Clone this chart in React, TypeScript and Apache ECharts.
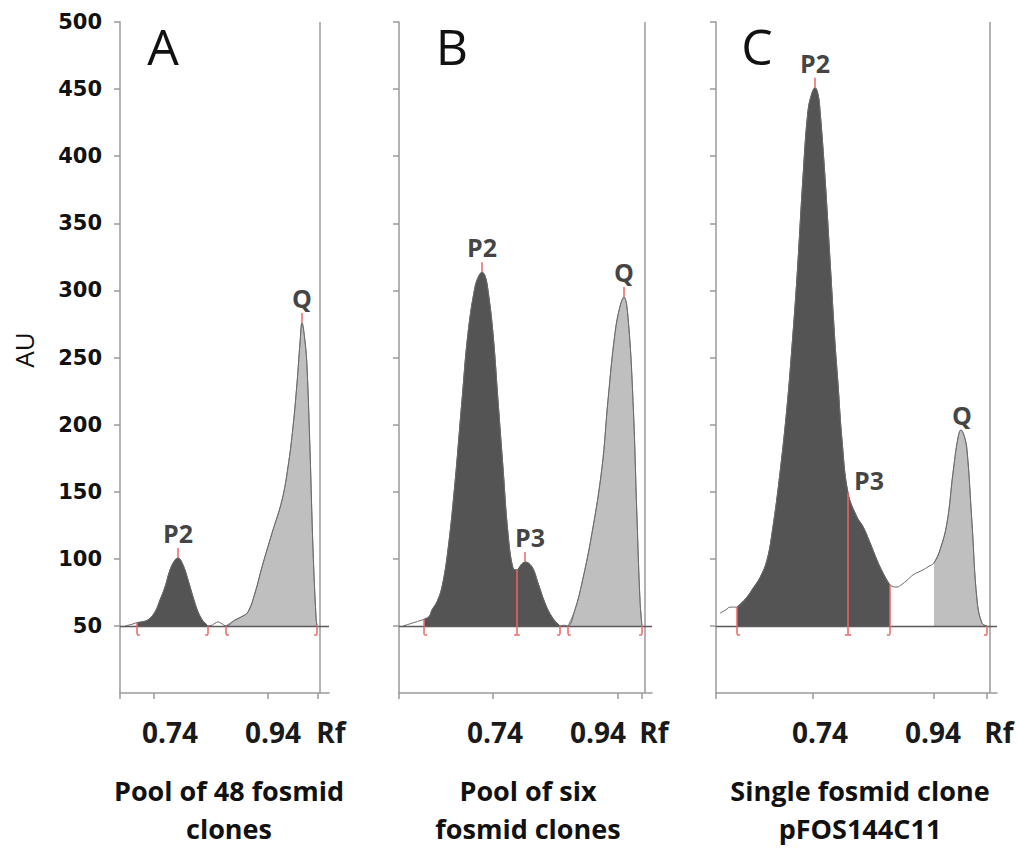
import React, { useEffect, useRef } from "react";
import * as echarts from "echarts";

type Pt = [number, number];

// ---------- data ----------
const yTickValues = [50, 100, 150, 200, 250, 300, 350, 400, 450, 500];
const xLabelValues = [0.74, 0.94];
const xAxisName = "Rf";
const yAxisName = "AU";
const panelLetters = ["A", "B", "C"];
const panelCaptions = [
  ["Pool of 48 fosmid", "clones"],
  ["Pool of six", "fosmid clones"],
  ["Single fosmid clone", "pFOS144C11"],
];
const baselineAU = 50;

// densitometric profiles (Rf, AU)
const profileA: Pt[] = [
  [0.6526, 50], [0.6643, 51], [0.672, 52], [0.6759, 52.5], [0.6856, 53], [0.6973, 54.5],
  [0.7109, 60.4], [0.7206, 69.3], [0.7303, 79], [0.74, 91.7], [0.7497, 99.1], [0.7555, 100.6],
  [0.7652, 95.4], [0.775, 84.2], [0.7847, 71.5], [0.7944, 60.4], [0.8041, 53.5], [0.808, 52.2],
  [0.8138, 50], [0.8216, 50.5], [0.8274, 52], [0.8332, 53], [0.839, 52], [0.8449, 50.5],
  [0.8487, 50], [0.8662, 54.4], [0.8798, 57], [0.8915, 60.4], [0.905, 74.5], [0.9186, 93.9],
  [0.9381, 119.2], [0.9575, 143.8], [0.9691, 168.4], [0.9788, 198.2], [0.9866, 231],
  [0.9924, 260.8], [0.9963, 275.7], [1.0021, 262], [1.006, 242.9], [1.0118, 181.1],
  [1.0177, 106.6], [1.0235, 56.6], [1.0254, 50],
];
const profileB: Pt[] = [
  [0.5614, 50], [0.6026, 55], [0.6123, 57], [0.6177, 61.9], [0.6274, 68], [0.6371, 79],
  [0.6487, 106.6], [0.6623, 156.5], [0.6759, 218], [0.6876, 268], [0.7012, 302.5],
  [0.7089, 311], [0.7148, 313.5], [0.7206, 311], [0.7264, 300], [0.7361, 268], [0.7458, 218],
  [0.7555, 168], [0.7652, 119], [0.775, 93], [0.7827, 91.7], [0.7905, 95.5], [0.7983, 97.6],
  [0.8118, 94], [0.8235, 82], [0.8371, 67], [0.8507, 56.6], [0.8662, 50], [0.874, 50.5],
  [0.8817, 50], [0.8953, 62], [0.9089, 82], [0.9283, 119], [0.9478, 168], [0.9594, 218],
  [0.973, 268], [0.9827, 288], [0.9905, 295], [0.9983, 280], [1.008, 218], [1.0157, 131],
  [1.0216, 69], [1.0254, 50],
];
const profileC: Pt[] = [
  [0.563, 59.6], [0.5736, 62], [0.5807, 64], [0.5931, 64], [0.6108, 71.5], [0.6214, 78],
  [0.6338, 86], [0.6462, 99], [0.6568, 124], [0.6692, 164], [0.6816, 213], [0.6904, 258],
  [0.6993, 310], [0.7099, 384.5], [0.7188, 434], [0.7258, 447], [0.7312, 451], [0.7365, 446],
  [0.74, 434], [0.7488, 384.5], [0.7577, 322.7], [0.7665, 261], [0.7719, 230], [0.7789, 188.5],
  [0.7896, 149], [0.8055, 131], [0.8161, 124], [0.8285, 112], [0.8409, 99], [0.8515, 89.4],
  [0.8639, 80.5], [0.8763, 79], [0.8851, 81], [0.894, 84], [0.9046, 88], [0.9135, 90],
  [0.9223, 91.7], [0.9312, 94], [0.9418, 97], [0.9524, 106.6], [0.9648, 126.7], [0.9754, 164],
  [0.9842, 190], [0.9896, 196], [0.9949, 192], [1.0002, 181], [1.009, 126.7], [1.0179, 69.3],
  [1.0267, 52], [1.0356, 50],
];

// integrated zones [from, to] in Rf
const darkZoneA = [0.6759, 0.8138];
const lightZoneA = [0.8487, 1.0254];
const darkZoneB = [0.6026, 0.8662];
const lightZoneB = [0.8817, 1.0254];
const darkZoneC = [0.5931, 0.8639];
const lightZoneC = [0.9418, 1.0356];

// red zone boundaries
const boundsA = [
  { x: 0.6759, kind: "start" }, { x: 0.8138, kind: "end" },
  { x: 0.8487, kind: "start" }, { x: 1.0254, kind: "end" },
];
const boundsB = [
  { x: 0.6026, kind: "start" }, { x: 0.7827, kind: "split" }, { x: 0.8662, kind: "end" },
  { x: 0.8817, kind: "start" }, { x: 1.0254, kind: "end" },
];
const boundsC = [
  { x: 0.5931, kind: "start" }, { x: 0.7896, kind: "split" }, { x: 0.8639, kind: "end" },
  { x: 1.0356, kind: "end" },
];

// named peaks
const peaksA = [
  { name: "P2", x: 0.7555, y: 100.6, tick: true },
  { name: "Q", x: 0.9963, y: 275.7, tick: true },
];
const peaksB = [
  { name: "P2", x: 0.7148, y: 313.5, tick: true },
  { name: "P3", x: 0.7983, y: 97.6, tick: true },
  { name: "Q", x: 0.9905, y: 295, tick: true },
];
const peaksC = [
  { name: "P2", x: 0.7312, y: 451, tick: true },
  { name: "P3", x: 0.7896, y: 149, tick: false },
  { name: "Q", x: 0.9896, y: 196, tick: false },
];

// ---------- layout / style ----------
const layouts = [
  { left: 120, width: 209, min: 0.6429, max: 1.0487, ticks: [0.6429, 0.7089, 0.9303, 1.0274], frame: 1.0274, letterX: 163, captionX: 229 },
  { left: 399, width: 253, min: 0.5536, max: 1.0449, ticks: [0.5536, 0.7361, 0.9788, 1.0254], frame: 1.0254, letterX: 452, captionX: 528 },
  { left: 716, width: 281, min: 0.5559, max: 1.0533, ticks: [0.5559, 0.7276, 0.9418, 1.0356], frame: 1.0356, letterX: 757, captionX: 860 },
];
const labelOffsets: Record<string, number[]> = {
  "1-P3": [5, 0],
  "2-P3": [21, 12],
  "2-Q": [1, 10],
};
const GRID_TOP = 22;
const GRID_H = 671;
const AXIS_COLOR = "#9a9a9a";
const RED = "#f06565";
const DARK = "#545454";
const LIGHT = "#bfbfbf";
const FONT = '"Open Sans", "DejaVu Sans", sans-serif';

const panels = [
  { profile: profileA, dark: darkZoneA, light: lightZoneA, bounds: boundsA, peaks: peaksA },
  { profile: profileB, dark: darkZoneB, light: lightZoneB, bounds: boundsB, peaks: peaksB },
  { profile: profileC, dark: darkZoneC, light: lightZoneC, bounds: boundsC, peaks: peaksC },
];

function valueAt(profile: Pt[], x: number): number {
  for (let i = 0; i < profile.length - 1; i++) {
    const [x0, y0] = profile[i];
    const [x1, y1] = profile[i + 1];
    if (x >= x0 - 1e-9 && x <= x1 + 1e-9) return y0 + ((y1 - y0) * (x - x0)) / (x1 - x0 || 1);
  }
  return baselineAU;
}
function zone(profile: Pt[], z: number[]): Pt[] {
  return profile.filter((p) => p[0] >= z[0] - 1e-9 && p[0] <= z[1] + 1e-9);
}

const SMOOTH = 0.4;

function buildOption() {
  const grid: any[] = [];
  const xAxis: any[] = [];
  const yAxis: any[] = [];
  const series: any[] = [];
  const graphic: any[] = [];

  panels.forEach((p, i) => {
    const L = layouts[i];
    grid.push({ left: L.left, top: GRID_TOP, width: L.width, height: GRID_H, containLabel: false, outerBoundsMode: "none" });
    xAxis.push({
      type: "value",
      gridIndex: i,
      min: L.min,
      max: L.max,
      splitLine: { show: false },
      axisLine: { show: true, onZero: false, lineStyle: { color: AXIS_COLOR, width: 1.5 } },
      axisTick: { show: true, customValues: L.ticks, length: 6, lineStyle: { color: AXIS_COLOR, width: 1.5 } },
      axisLabel: {
        show: true,
        customValues: xLabelValues,
        formatter: (v: number) => v.toFixed(2),
        margin: 25,
        color: "#1a1a1a",
        fontFamily: FONT,
        fontWeight: "bold",
        fontSize: 28,
      },
      name: xAxisName,
      nameLocation: "end",
      nameGap: 2,
      nameMoveOverlap: false,
      nameTextStyle: {
        color: "#1a1a1a",
        fontFamily: FONT,
        fontWeight: "bold",
        fontSize: 28,
        align: "center",
        verticalAlign: "top",
        padding: [25, 0, 0, 0],
      },
    });
    yAxis.push({
      type: "value",
      gridIndex: i,
      min: 0,
      max: 500,
      interval: 50,
      splitLine: { show: false },
      axisLine: { show: true, onZero: false, lineStyle: { color: AXIS_COLOR, width: 1.5 } },
      axisTick: { show: true, customValues: yTickValues, length: 6, lineStyle: { color: AXIS_COLOR, width: 1.5 } },
      axisLabel: {
        show: i === 0,
        customValues: yTickValues,
        margin: 18,
        color: "#111",
        fontFamily: '"DejaVu Sans", sans-serif',
        fontWeight: "bold",
        fontSize: 21,
        padding: [14, 0, 0, 0],
      },
    });

    // red marker segments
    const foot = 0.0055;
    const low = baselineAU - 6.5;
    const marks: any[] = [];
    const redStyle = { color: RED, width: 1.5, type: "solid" };
    p.bounds.forEach((b) => {
      const top = valueAt(p.profile, b.x);
      marks.push([{ coord: [b.x, low], lineStyle: redStyle }, { coord: [b.x, top] }]);
      const a = b.kind === "start" ? b.x : b.x - foot;
      const c = b.kind === "end" ? b.x : b.x + foot;
      marks.push([{ coord: [a, low], lineStyle: redStyle }, { coord: [c, low] }]);
    });
    p.peaks.forEach((pk) => {
      if (pk.tick) marks.push([{ coord: [pk.x, pk.y], lineStyle: redStyle }, { coord: [pk.x, pk.y + 7.5] }]);
    });

    // dark and light integrated areas
    series.push({
      type: "line",
      xAxisIndex: i,
      yAxisIndex: i,
      data: zone(p.profile, p.dark),
      showSymbol: false,
      smooth: SMOOTH,
      lineStyle: { color: DARK, width: 1 },
      areaStyle: { color: DARK, opacity: 1, origin: baselineAU },
      z: 2,
      silent: true,
    });
    series.push({
      type: "line",
      xAxisIndex: i,
      yAxisIndex: i,
      data: zone(p.profile, p.light),
      showSymbol: false,
      smooth: SMOOTH,
      lineStyle: { color: "#8a8a8a", width: 1 },
      areaStyle: { color: LIGHT, opacity: 1, origin: baselineAU },
      z: 2,
      silent: true,
    });
    // full profile with frame, baseline and markers
    series.push({
      type: "line",
      xAxisIndex: i,
      yAxisIndex: i,
      data: p.profile,
      showSymbol: false,
      smooth: SMOOTH,
      lineStyle: { color: "#6a6a6a", width: 1 },
      z: 4,
      silent: true,
      markLine: {
        silent: true,
        symbol: ["none", "none"],
        label: { show: false },
        emphasis: { disabled: true },
        lineStyle: { type: "solid" },
        data: [
          { xAxis: L.frame, lineStyle: { color: AXIS_COLOR, width: 1.5, type: "solid" } },
          { yAxis: baselineAU, lineStyle: { color: "#5a5a5a", width: 1.3, type: "solid" } },
          ...marks,
        ],
      },
    });
    // peak names
    series.push({
      type: "scatter",
      xAxisIndex: i,
      yAxisIndex: i,
      symbolSize: 1,
      itemStyle: { color: "rgba(0,0,0,0)" },
      silent: true,
      z: 6,
      data: p.peaks.map((pk) => ({
        value: [pk.x, pk.y],
        name: pk.name,
        label: { offset: labelOffsets[`${i}-${pk.name}`] || [0, 0] },
      })),
      label: {
        show: true,
        position: "top",
        distance: 12,
        formatter: "{b}",
        color: "#111",
        fontFamily: FONT,
        fontWeight: "bold",
        fontSize: 25,
      },
    });

    graphic.push({
      type: "text",
      x: L.letterX,
      y: 46,
      style: { text: panelLetters[i], fill: "#111", font: `normal 50px ${FONT}`, align: "center", verticalAlign: "middle" },
    });
    panelCaptions[i].forEach((line, k) => {
      graphic.push({
        type: "text",
        x: L.captionX,
        y: 790 + k * 38,
        style: { text: line, fill: "#111", font: `bold 27px ${FONT}`, align: "center", verticalAlign: "middle" },
      });
    });
  });

  graphic.push({
    type: "text",
    x: 24,
    y: 350,
    rotation: Math.PI / 2,
    style: { text: yAxisName, fill: "#111", font: `normal 26px ${FONT}`, align: "center", verticalAlign: "middle" },
  });

  return {
    animation: false,
    backgroundColor: "#ffffff",
    grid,
    xAxis,
    yAxis,
    series,
    graphic,
  };
}

export default function App() {
  const ref = useRef<HTMLDivElement>(null);
  useEffect(() => {
    if (!ref.current) return;
    const chart = echarts.init(ref.current, undefined, { renderer: "svg" });
    chart.setOption(buildOption() as any);
    return () => chart.dispose();
  }, []);
  return (
    <div
      ref={ref}
      style={{ position: "absolute", left: 0, top: 0, width: 1019, height: 848, background: "#fff" }}
    />
  );
}
